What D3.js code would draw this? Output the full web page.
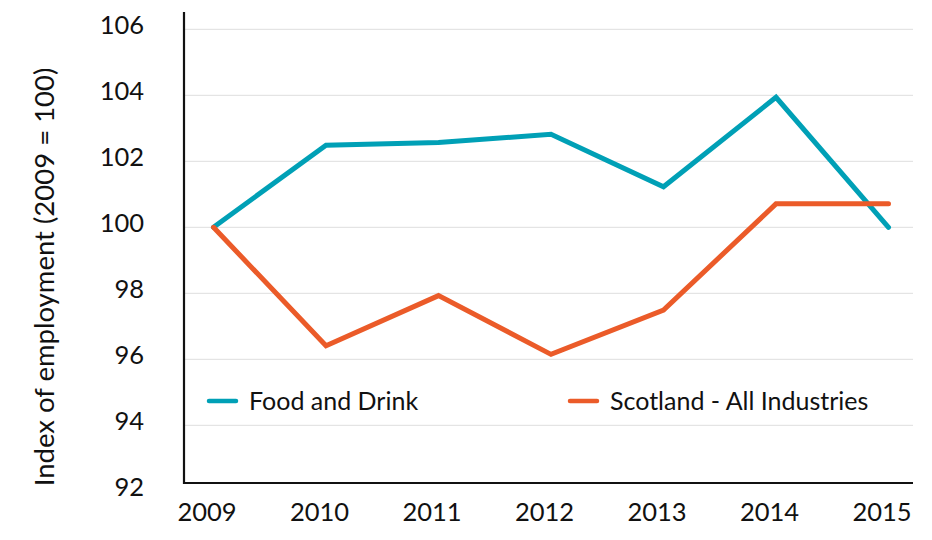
<!DOCTYPE html>
<html>
<head>
<meta charset="utf-8">
<script src="https://cdn.jsdelivr.net/npm/d3@7/dist/d3.min.js"></script>
<style>
  html, body { margin: 0; padding: 0; background: #fff; }
  text { font-family: Lato, "Open Sans", sans-serif; fill: #111; }
</style>
</head>
<body>
<svg id="chart" width="932" height="540"></svg>
<script>
// Employment index, 2009 = 100
const years = ["2009", "2010", "2011", "2012", "2013", "2014", "2015"];
const foodAndDrink = [100, 102.49, 102.57, 102.82, 101.23, 103.94, 100];
const scotlandAll = [100, 96.41, 97.93, 96.15, 97.49, 100.71, 100.71];
const yTicks = [92, 94, 96, 98, 100, 102, 104, 106];
const seriesNames = ["Food and Drink", "Scotland - All Industries"];
const seriesColors = ["#00A0B6", "#EB5B29"];

const svg = d3.select("#chart");

const x = d3.scalePoint().domain(years).range([213.5, 888.5]);
const y = d3.scaleLinear().domain([92, 106]).range([491.3, 29.3]);

const plotLeft = 184, plotRight = 913, plotTop = 12, plotBottom = 483;

// horizontal gridlines
svg.append("g")
  .selectAll("line")
  .data(yTicks.filter(d => d > 92))
  .join("line")
  .attr("x1", plotLeft).attr("x2", plotRight)
  .attr("y1", d => y(d)).attr("y2", d => y(d))
  .attr("stroke", "#dedede").attr("stroke-width", 1);

// y tick labels
const yAxis = d3.axisLeft(y).tickValues(yTicks).tickSize(0).tickPadding(0);
const gy = svg.append("g").attr("transform", "translate(144,-4)").call(yAxis);
gy.select(".domain").remove();
gy.selectAll("text")
  .style("font-family", "Lato, 'Open Sans', sans-serif")
  .style("font-size", "25.5px").attr("fill", "#111");

// x tick labels
const xAxis = d3.axisBottom(x).tickSize(0).tickPadding(0);
const gx = svg.append("g").attr("transform", "translate(-7,503)").call(xAxis);
gx.select(".domain").remove();
gx.selectAll("text")
  .style("font-family", "Lato, 'Open Sans', sans-serif")
  .style("font-size", "25.5px").attr("fill", "#111");

// axis lines
svg.append("path")
  .attr("d", `M${plotLeft},${plotTop}V${plotBottom}H${plotRight}`)
  .attr("fill", "none").attr("stroke", "#111").attr("stroke-width", 2.2);

// series lines
const line = d3.line().x((d, i) => x(years[i])).y(d => y(d));
[foodAndDrink, scotlandAll].forEach((vals, k) => {
  svg.append("path")
    .datum(vals)
    .attr("d", line)
    .attr("fill", "none")
    .attr("stroke", seriesColors[k])
    .attr("stroke-width", 5)
    .attr("stroke-linejoin", "miter")
    .attr("stroke-linecap", "round");
});

// legend
const legendX = [209, 570];
seriesNames.forEach((name, k) => {
  const g = svg.append("g").attr("transform", `translate(${legendX[k]},401)`);
  g.append("line").attr("x1", 0).attr("x2", 27).attr("y1", 0).attr("y2", 0)
    .attr("stroke", seriesColors[k]).attr("stroke-width", 4.5).attr("stroke-linecap", "round");
  g.append("text").attr("x", 40).attr("y", 8.5)
    .style("font-size", "25px").text(name);
});

// y axis title
svg.append("text")
  .attr("transform", "translate(54,277) rotate(-90)")
  .attr("text-anchor", "middle")
  .style("font-size", "27.5px")
  .text("Index of employment (2009 = 100)");
</script>
</body>
</html>
